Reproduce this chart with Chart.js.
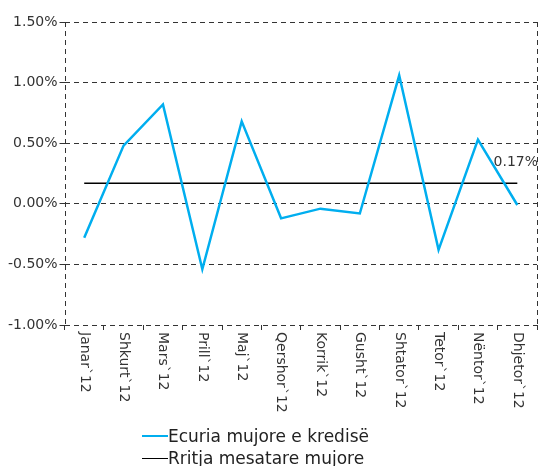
<!DOCTYPE html>
<html>
<head>
<meta charset="utf-8">
<script src="https://cdn.jsdelivr.net/npm/chart.js@4.4.0/dist/chart.umd.min.js"></script>
<style>
    html, body { margin: 0; padding: 0; background: #fff; }
    #wrap { position: relative; width: 540px; height: 466px; }
    #legend { position: absolute; left: 142px; top: 425px; font: 17px "DejaVu Sans", sans-serif; color: #222; }
    .item { display: flex; align-items: center; height: 22px; white-space: nowrap; }
    .swatch { width: 26px; height: 0; border-top-style: solid; }
</style>
</head>
<body>
<div id="wrap">
    <canvas id="myChart" width="540" height="466"></canvas>
    <div id="legend"></div>
</div>
<script>
const months = ["Janar`12", "Shkurt`12", "Mars`12", "Prill`12", "Maj`12", "Qershor`12",
    "Korrik`12", "Gusht`12", "Shtator`12", "Tetor`12", "Nëntor`12", "Dhjetor`12"];
const creditGrowth = [-0.28, 0.48, 0.82, -0.54, 0.68, -0.12, -0.04, -0.08, 1.06, -0.38, 0.53, -0.01];
const averageGrowth = [0.17, 0.17, 0.17, 0.17, 0.17, 0.17, 0.17, 0.17, 0.17, 0.17, 0.17, 0.17];
const averageLabel = "0.17%";
const yTicks = [-1.0, -0.5, 0.0, 0.5, 1.0, 1.5];

const seriesNames = ["Ecuria mujore e kredisë", "Rritja mesatare mujore"];
const blue = "#00aeef";
const axisColor = "#333";
const dashPattern = [5, 4];

// etiketat e muajve (te rrotulluara ne drejtim te akrepave) + vlera mesatare + kufijte me vija
const extrasPlugin = {
    id: "extras",
    afterDraw(chart) {
        const ctx = chart.ctx;
        const x = chart.scales.x;
        const y = chart.scales.y;
        const area = chart.chartArea;
        ctx.save();
        ctx.font = '14px "DejaVu Sans", sans-serif';
        ctx.fillStyle = "#333";
        ctx.textAlign = "left";
        ctx.textBaseline = "middle";
        months.forEach((m, i) => {
            const px = x.getPixelForValue(i);
            ctx.save();
            ctx.translate(px, area.bottom + 7);
            ctx.rotate(Math.PI / 2);
            ctx.fillText(m, 0, 0);
            ctx.restore();
        });

        ctx.textAlign = "right";
        const last = averageGrowth.length - 1;
        ctx.fillText(averageLabel, area.right + 1, y.getPixelForValue(averageGrowth[last]) - 21);

        ctx.strokeStyle = axisColor;
        ctx.lineWidth = 1;
        ctx.setLineDash(dashPattern);
        const l = Math.round(area.left) + 0.5;
        const r = Math.round(area.right) + 0.5;
        ctx.beginPath();
        ctx.moveTo(l, area.top);
        ctx.lineTo(l, area.bottom);
        ctx.moveTo(r, area.top);
        ctx.lineTo(r, area.bottom);
        ctx.stroke();
        ctx.restore();
    }
};

const chart = new Chart(document.getElementById("myChart"), {
    type: "line",
    data: {
        labels: months,
        datasets: [
            {
                label: seriesNames[0],
                data: creditGrowth,
                borderColor: blue,
                borderWidth: 2.5,
                pointRadius: 0,
                tension: 0
            },
            {
                label: seriesNames[1],
                data: averageGrowth,
                borderColor: "#000",
                borderWidth: 1.5,
                pointRadius: 0,
                tension: 0
            }
        ]
    },
    options: {
        responsive: false,
        animation: false,
        devicePixelRatio: 1,
        layout: { padding: { top: 22, right: 3, left: 6, bottom: 136 } },
        plugins: {
            legend: { display: false },
            tooltip: { enabled: false }
        },
        scales: {
            x: {
                offset: true,
                grid: { offset: true, drawOnChartArea: false, drawTicks: true, tickLength: 5, color: axisColor },
                border: { display: false },
                ticks: { display: false }
            },
            y: {
                min: yTicks[0],
                max: yTicks[yTicks.length - 1],
                afterBuildTicks: (axis) => { axis.ticks = yTicks.map(v => ({ value: v })); },
                grid: { color: axisColor, tickLength: 5, tickBorderDash: [] },
                border: { display: false, dash: dashPattern },
                ticks: {
                    padding: 2,
                    color: "#333",
                    font: { family: "DejaVu Sans", size: 14 },
                    callback: (v) => v.toFixed(2) + "%"
                }
            }
        }
    },
    plugins: [extrasPlugin]
});

// legjenda si HTML, nje rresht per seri
const legendBox = document.getElementById("legend");
chart.data.datasets.forEach((ds) => {
    const row = document.createElement("div");
    row.className = "item";
    const sw = document.createElement("span");
    sw.className = "swatch";
    sw.style.borderTopColor = ds.borderColor;
    sw.style.borderTopWidth = (ds.borderWidth > 2 ? 2 : 1.5) + "px";
    const txt = document.createElement("span");
    txt.textContent = ds.label;
    row.appendChild(sw);
    row.appendChild(txt);
    legendBox.appendChild(row);
});
</script>
</body>
</html>
